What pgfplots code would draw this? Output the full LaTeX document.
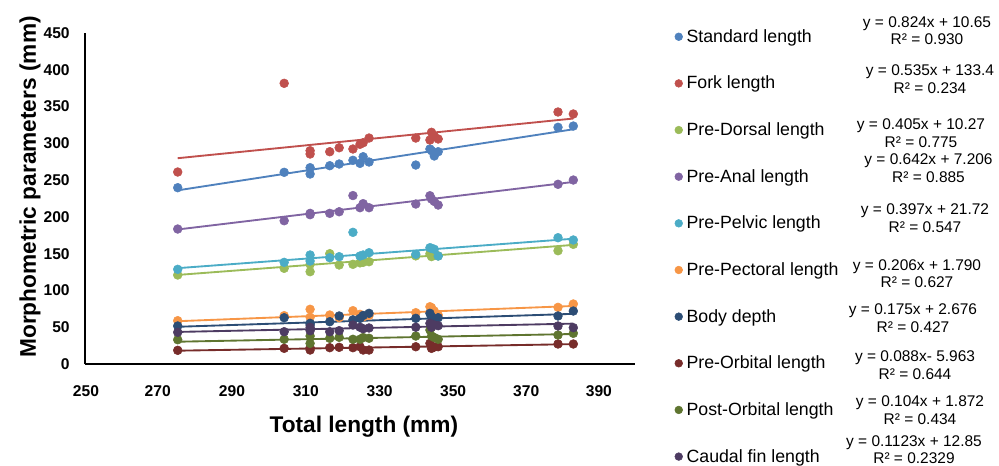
\documentclass[border=0pt]{standalone}
\usepackage{fontspec}
\setmainfont{Liberation Sans}
\usepackage{pgfplots}
\usepackage{pgfplotstable}
\pgfplotsset{compat=1.18}

\definecolor{cSL}{HTML}{4F81BD}
\definecolor{cFL}{HTML}{C0504D}
\definecolor{cPD}{HTML}{9BBB59}
\definecolor{cPA}{HTML}{8064A2}
\definecolor{cPP}{HTML}{4BACC6}
\definecolor{cPPec}{HTML}{F79646}
\definecolor{cBD}{HTML}{2C4D75}
\definecolor{cPO}{HTML}{772C2A}
\definecolor{cPostO}{HTML}{5F7530}
\definecolor{cCF}{HTML}{4D3B62}

% measurements per fish (mm)
\pgfplotstableread{
x     SL    FL    PD    PA    PP    PPec BD   PO   PostO CF
273.6 239.7 261.0 121.0 183.5 128.7 58.9 51.7 18.6 33.0 43.1
300.7 260.6 381.6 130.1 194.8 138.2 65.7 62.9 21.3 33.6 43.9
307.3 266.9 290.0 135.5 204.8 148.2 74.4 55.3 22.2 38.0 49.9
307.3 258.3 285.5 125.5 203.0 140.0 63.5 53.0 19.0 28.0 45.3
312.3 269.6 288.6 150.0 204.8 144.5 66.6 57.5 22.2 34.9 43.9
314.7 271.9 294.0 134.6 207.0 145.9 63.0 65.3 22.7 36.3 45.3
318.2 276.9 292.3 135.5 229.0 179.0 72.5 60.0 22.2 33.6 53.0
320.0 272.8 298.7 137.5 212.5 146.8 67.5 62.0 23.5 33.6 50.0
320.8 281.8 300.8 138.2 218.0 148.2 64.0 66.0 19.0 36.0 48.0
322.3 274.6 307.2 139.1 212.5 151.3 66.0 68.9 19.0 35.0 49.0
334.2 270.5 307.2 147.0 217.5 149.1 69.8 62.1 23.5 38.0 50.0
337.8 292.3 304.5 150.0 228.8 158.1 77.9 68.9 28.1 46.2 55.3
338.2 290.0 315.0 146.0 224.3 157.3 76.5 64.0 21.3 38.0 50.0
338.9 282.8 310.0 148.0 221.0 156.0 72.0 60.0 23.0 36.0 53.0
339.9 288.6 305.9 147.0 216.1 146.8 66.6 62.9 23.5 33.6 52.1
370.4 321.8 342.6 154.0 244.3 171.7 77.0 65.3 27.2 39.4 51.7
374.3 323.5 339.9 162.7 250.1 168.6 81.6 72.0 27.2 41.7 49.4
}\fish

% linear trend lines, end points
\pgfplotstableread{
x     SL    FL    PD    PA    PP    PPec BD   PO   PostO CF
273.6 236.1 279.8 121.1 182.9 130.3 58.2 50.6 18.1 30.3 43.6
374.3 319.1 333.7 161.9 247.5 170.3 78.9 68.2 27.0 40.8 54.9
}\trend

\pgfplotsset{
  sc/.style={only marks, mark=*, mark size=3.3pt},
  tl/.style={no marks, line width=1.4pt, forget plot},
}

\begin{document}
\begin{tikzpicture}
\begin{axis}[
    at={(0,0)}, anchor=south west,
    scale only axis,
    width=412.5pt, height=248.25pt,
    xmin=250, xmax=390, ymin=0, ymax=450,
    axis x line*=bottom, axis y line*=left,
    axis line style={line width=1.6pt, black},
    major tick length=0pt,
    xtick={250.25,268.5,287.4,306.2,325,343.7,362.3,380.8},
    xticklabels={250,270,290,310,330,350,370,390},
    ytick={0,50,...,450},
    /pgf/number format/assume math mode=true,
    ticklabel style={font=\bfseries\fontsize{11.7}{14}\selectfont},
    xticklabel style={yshift=-12.6pt},
    yticklabel style={xshift=-8pt},
    xlabel={Total length (mm)},
    ylabel={Morphometric parameters (mm)},
    label style={font=\bfseries\fontsize{17}{20}\selectfont},
    xlabel style={at={(axis description cs:0.507,-0.19)}, anchor=center},
    ylabel style={at={(axis description cs:-0.1,0.535)}, anchor=center, rotate=0},
    legend cell align=left,
    legend image code/.code={\draw[#1, mark size=2.9pt] plot coordinates {(0pt,0pt)};},
    legend style={at={(axis description cs:1.072,1.02)}, anchor=north west,
      draw=none, fill=none, inner sep=0pt,
      font=\fontsize{13.3}{15}\selectfont, row sep=19.85pt,
      /tikz/every odd column/.append style={column sep=1pt}},
]
\addplot[sc, color=cSL]    table[x=x,y=SL]{\fish};
\addplot[sc, color=cFL]    table[x=x,y=FL]{\fish};
\addplot[sc, color=cPD]    table[x=x,y=PD]{\fish};
\addplot[sc, color=cPA]    table[x=x,y=PA]{\fish};
\addplot[sc, color=cPP]    table[x=x,y=PP]{\fish};
\addplot[sc, color=cPPec]  table[x=x,y=PPec]{\fish};
\addplot[sc, color=cBD]    table[x=x,y=BD]{\fish};
\addplot[sc, color=cPO]    table[x=x,y=PO]{\fish};
\addplot[sc, color=cPostO] table[x=x,y=PostO]{\fish};
\addplot[sc, color=cCF]    table[x=x,y=CF]{\fish};

\addplot[tl, color=cSL]    table[x=x,y=SL]{\trend};
\addplot[tl, color=cFL]    table[x=x,y=FL]{\trend};
\addplot[tl, color=cPD]    table[x=x,y=PD]{\trend};
\addplot[tl, color=cPA]    table[x=x,y=PA]{\trend};
\addplot[tl, color=cPP]    table[x=x,y=PP]{\trend};
\addplot[tl, color=cPPec]  table[x=x,y=PPec]{\trend};
\addplot[tl, color=cBD]    table[x=x,y=BD]{\trend};
\addplot[tl, color=cPO]    table[x=x,y=PO]{\trend};
\addplot[tl, color=cPostO] table[x=x,y=PostO]{\trend};
\addplot[tl, color=cCF]    table[x=x,y=CF]{\trend};

\legend{Standard length, Fork length, Pre-Dorsal length, Pre-Anal length,
  Pre-Pelvic length, Pre-Pectoral length, Body depth, Pre-Orbital length,
  Post-Orbital length, Caudal fin length}
\end{axis}

% trend line equations, placed in image pixel coordinates
\begin{scope}[x=0.75pt, y=-0.75pt, shift={(-63.75pt,273pt)},
  every node/.style={align=center, inner sep=0pt, font=\fontsize{11.6}{13.1}\selectfont}]
\node at (927,30.5)  {y = 0.824x + 10.65\\R² = 0.930};
\node at (930,79)    {y = 0.535x + 133.4\\R² = 0.234};
\node at (921,133)   {y = 0.405x + 10.27\\R² = 0.775};
\node at (928.5,168) {y = 0.642x + 7.206\\R² = 0.885};
\node at (925,218)   {y = 0.397x + 21.72\\R² = 0.547};
\node at (917,273.5) {y = 0.206x + 1.790\\R² = 0.627};
\node at (913,318)   {y = 0.175x + 2.676\\R² = 0.427};
\node at (915,365)   {y = 0.088x- 5.963\\R² = 0.644};
\node at (920,410)   {y = 0.104x + 1.872\\R² = 0.434};
\node at (914,449.5) {y = 0.1123x + 12.85\\R² = 0.2329};
\pgfresetboundingbox
\path[use as bounding box] (0,0) rectangle (999,465);
\end{scope}
\end{tikzpicture}
\end{document}
